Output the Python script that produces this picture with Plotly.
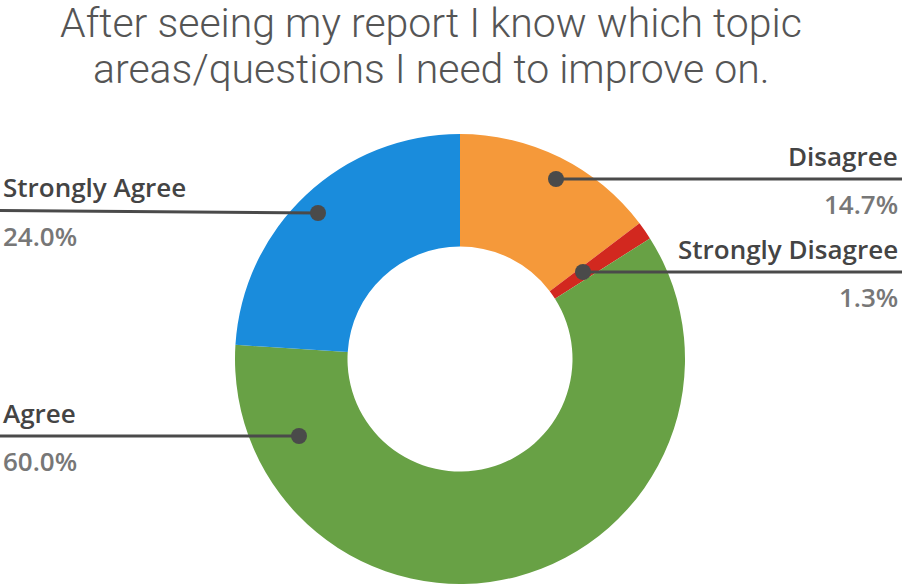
import plotly.graph_objects as go

labels = ["Disagree", "Strongly Disagree", "Agree", "Strongly Agree"]
values = [14.7, 1.3, 60.0, 24.0]
colors = ["#F5993A", "#D2281F", "#68A145", "#1A8CDC"]
pct_text = ["14.7%", "1.3%", "60.0%", "24.0%"]

title_lines = ["After seeing my report I know which topic",
               "areas/questions I need to improve on."]

W, H = 902, 585
cx, cy, r = 460, 359, 225

def px(x):
    return x / W

def py(y):
    return 1 - y / H

fig = go.Figure()
fig.add_trace(go.Pie(
    labels=labels, values=values, hole=0.5, sort=False, direction="clockwise",
    rotation=0, marker=dict(colors=colors, line=dict(width=0)),
    textinfo="none", hoverinfo="label+percent", showlegend=False,
    domain=dict(x=[px(cx - r), px(cx + r)], y=[py(cy + r), py(cy - r)]),
))

# leader callouts: (dot x, dot y, line end x, line end y, side)
callouts = {
    "Disagree": (556, 179, 902, 179, "right"),
    "Strongly Disagree": (583, 272, 902, 272, "right"),
    "Agree": (299, 436, 0, 436, "left"),
    "Strongly Agree": (318, 213, 0, 210.5, "left"),
}

shapes = []
annotations = []
for lab, pct in zip(labels, pct_text):
    dx, dy, ex, ey, side = callouts[lab]
    shapes.append(dict(type="line", xref="paper", yref="paper",
                       x0=px(dx), y0=py(dy), x1=px(ex), y1=py(ey),
                       line=dict(color="#4A4A4A", width=3)))
    shapes.append(dict(type="circle", xref="paper", yref="paper",
                       x0=px(dx - 8), x1=px(dx + 8), y0=py(dy + 8), y1=py(dy - 8),
                       fillcolor="#4A4A4A", line=dict(width=0)))
    anchor = "left" if side == "left" else "right"
    xoff = 1 if side == "left" else -2
    annotations.append(dict(text=lab, x=px(ex), y=py(ey - 23), xref="paper", yref="paper",
                            xanchor=anchor, yanchor="middle", showarrow=False, xshift=xoff,
                            font=dict(family="Open Sans", size=26, color="#444444", weight=600)))
    annotations.append(dict(text=pct, x=px(ex), y=py(ey + 25), xref="paper", yref="paper",
                            xanchor=anchor, yanchor="middle", showarrow=False, xshift=xoff,
                            font=dict(family="Open Sans", size=26, color="#777777", weight=600)))

for i, line in enumerate(title_lines):
    annotations.append(dict(text=line, x=px(431), y=py(23 + 46 * i), xref="paper", yref="paper",
                            xanchor="center", yanchor="middle", showarrow=False,
                            font=dict(family="Roboto", size=41, color="#555555", weight=300)))

fig.update_layout(width=W, height=H, margin=dict(l=0, r=0, t=0, b=0),
                  paper_bgcolor="white", plot_bgcolor="white",
                  shapes=shapes, annotations=annotations)

fig.write_html("out.html", config={"displayModeBar": False},
               post_script="document.body.style.margin='0';")
